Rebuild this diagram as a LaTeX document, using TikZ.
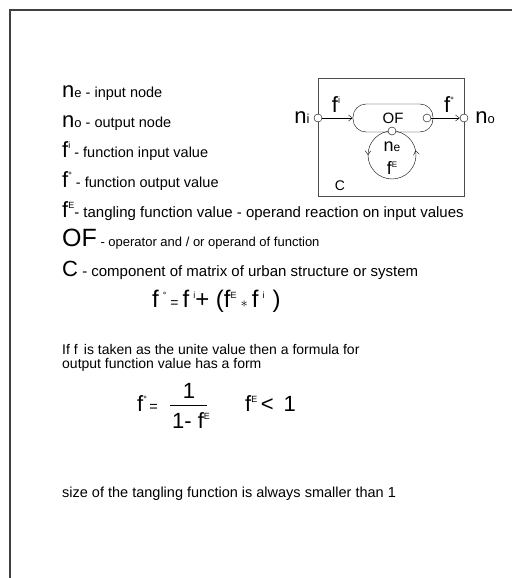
\documentclass[tikz,border=0pt]{standalone}
\usepackage{fontspec}
\setmainfont{Liberation Sans}
\usetikzlibrary{positioning, arrows.meta, decorations.markings}

\newcommand{\bigsym}{\fontsize{22}{24}\selectfont}
\newcommand{\supsym}[1]{\raisebox{8.5pt}{\fontsize{9}{10}\selectfont #1}}
\newcommand{\subsym}[1]{{\fontsize{13}{14}\selectfont #1}}

\tikzset{
  legend/.style={anchor=base west, inner sep=0pt, font=\fontsize{14.5}{16}\selectfont},
  port/.style={draw, circle, inner sep=0pt, minimum size=8pt, fill=white},
  capsule/.style={draw, rounded corners=13pt, minimum width=80pt, minimum height=28pt,
    inner sep=0pt, font=\fontsize{15}{17}\selectfont},
  ring/.style={draw, circle, inner sep=0pt, minimum size=48pt},
  label/.style={inner sep=0pt, anchor=base},
}

\begin{document}
\begin{tikzpicture}[x=1pt, y=-1pt, > = {Straight Barb[length=4pt, width=6pt]}, thin]
  \useasboundingbox (0,0) rectangle (512,578);
  % page frame
  \draw[line width=1.3pt, black!75] (512,10) -- (10,10) -- (10,578);

  % legend
  \node[legend] (lne) at (62,97) {{\bigsym n}\subsym{e} - input node};
  \node[legend] (lno) at (62,127) {{\bigsym n}\subsym{o} - output node};
  \node[legend] (lfi) at (62,157) {{\bigsym f}\supsym{i} - function input value};
  \node[legend] (lfo) at (62,187) {{\bigsym f}\supsym{°} - function output value};
  \node[legend, font=\fontsize{15}{17}\selectfont] (lfe) at (62,217) {{\bigsym f}\supsym{E}- tangling function value - operand reaction on input values};
  \node[legend, font=\fontsize{13}{15}\selectfont] (lof) at (62,246) {{\fontsize{25}{27}\selectfont OF} - operator and / or operand of function};
  \node[legend, font=\fontsize{15}{17}\selectfont] (lc) at (62,276) {{\bigsym C} - component of matrix of urban structure or system};

  % first formula
  \node[legend, font=\fontsize{24}{26}\selectfont] (eq1) at (152,307)
    {f\,\supsym{°}\,{\fontsize{14}{16}\selectfont =}\,f\,\supsym{i}+ (f\supsym{E}\,{\fontsize{14}{16}\selectfont$\ast$}\,f\,\supsym{i}\,\,)};

  \node[legend, font=\fontsize{14}{16}\selectfont] (txt1) at (62,354) {If f\, is taken as the unite value then a formula for};
  \node[legend, font=\fontsize{14}{16}\selectfont] (txt2) at (62,368) {output function value has a form};

  % second formula
  \node[legend] (eq2f) at (137,411) {{\bigsym f}\supsym{°}\,=};
  \node[label, font=\bigsym] (num) at (189,398) {1};
  \draw (170,405) -- (207,405);
  \node[label, font=\bigsym] (den) at (191,428) {1- f\supsym{E}};
  \node[legend] (lt) at (245,411) {{\bigsym f}\supsym{E}{\bigsym\,<\, 1}};

  \node[legend] (txt3) at (62,497) {size of the tangling function is always smaller than 1};

  % component diagram
  \node[draw, black!70, minimum width=146pt, minimum height=118pt] (comp) at (391,137) {};
  \node[capsule] (of) at (393,118) {OF};
  \node[ring,
    postaction={decorate, decoration={markings,
      mark=at position 0.03 with {\arrow{>}},
      mark=at position 0.5 with {\arrow{>}}}}] (loop) at (392,155) {};
  \node[port] (in) at (318,118) {};
  \node[port] (out) at (464,118) {};
  \node[port] (ofr) at (427,118) {};
  \node[port] (ofb) at (392,131) {};
  \draw[->] (in) -- (of);
  \draw[->] (ofr) -- (out);

  \node[label] (fi) at (336,112) {{\bigsym f}\supsym{i}};
  \node[label] (fo) at (449,112) {{\bigsym f}\supsym{°}};
  \node[label] (ni) at (302,123) {{\bigsym n}\subsym{i}};
  \node[label] (no) at (485,123) {{\bigsym n}\subsym{o}};
  \node[label, font=\fontsize{18}{20}\selectfont] (ne) at (392,151) {n{\fontsize{12}{13}\selectfont e}};
  \node[label, font=\fontsize{18}{20}\selectfont] (fe) at (392,174) {f\raisebox{7pt}{\fontsize{8}{9}\selectfont E}};
  \node[label, font=\fontsize{14}{16}\selectfont] (cl) at (340,190) {C};
\end{tikzpicture}
\end{document}
